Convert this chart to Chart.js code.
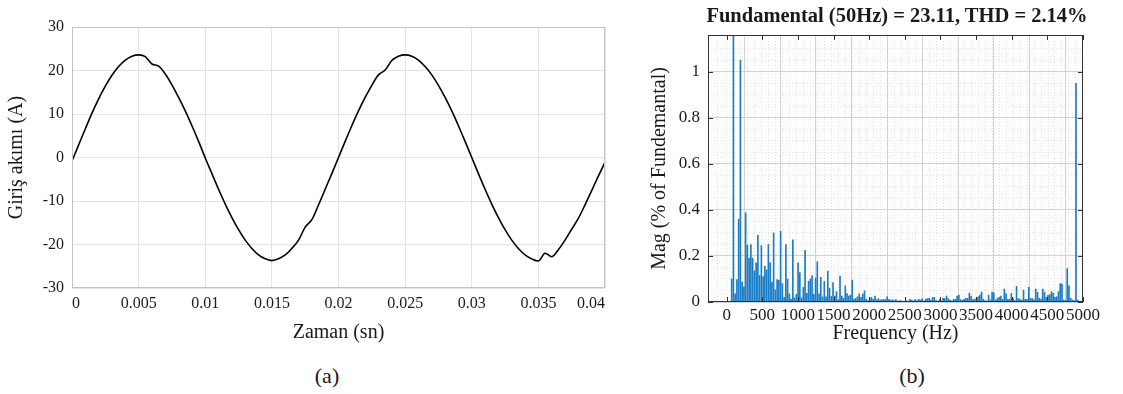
<!DOCTYPE html>
<html>
<head>
<meta charset="utf-8">
<script src="https://cdn.jsdelivr.net/npm/chart.js@4.4.0/dist/chart.umd.min.js"></script>
<style>
  body { margin: 0; background: #fff; width: 1123px; height: 394px; overflow: hidden; position: relative;
         font-family: 'Liberation Serif', 'Times New Roman', serif; color: #1a1a1a; }
  canvas { position: absolute; top: 0; }
  .lbl { position: absolute; transform: translate(-50%, -50%); white-space: nowrap; }
</style>
</head>
<body>
<canvas id="wave" width="620" height="350" style="left:0"></canvas>
<canvas id="fft" width="483" height="350" style="left:640px"></canvas>
<div class="lbl" style="left:897px; top:15px; font-size:20.5px; font-weight:bold">Fundamental (50Hz) = 23.11, THD = 2.14%</div>
<div class="lbl" style="left:327px; top:376px; font-size:22px">(a)</div>
<div class="lbl" style="left:912px; top:376px; font-size:22px">(b)</div>
<script>
// (a) input current, sampled every 0.5 ms
const timeS = [
  0, 0.0005, 0.001, 0.0015, 0.002, 0.0025, 0.003, 0.0035, 0.004, 0.0045,
  0.005, 0.0055, 0.006, 0.0065, 0.007, 0.0075, 0.008, 0.0085, 0.009, 0.0095,
  0.01, 0.0105, 0.011, 0.0115, 0.012, 0.0125, 0.013, 0.0135, 0.014, 0.0145,
  0.015, 0.0155, 0.016, 0.0165, 0.017, 0.0175, 0.018, 0.0185, 0.019, 0.0195,
  0.02, 0.0205, 0.021, 0.0215, 0.022, 0.0225, 0.023, 0.0235, 0.024, 0.0245,
  0.025, 0.0255, 0.026, 0.0265, 0.027, 0.0275, 0.028, 0.0285, 0.029, 0.0295,
  0.03, 0.0305, 0.031, 0.0315, 0.032, 0.0325, 0.033, 0.0335, 0.034, 0.0345,
  0.035, 0.0355, 0.036, 0.0365, 0.037, 0.0375, 0.038, 0.0385, 0.039, 0.0395,
  0.04
];
const currentA = [
  -0.8, 2.9, 6.6, 10.2, 13.5, 16.4, 18.9, 20.9, 22.4, 23.3,
  23.6, 23.2, 21.5, 21.0, 19.2, 16.7, 13.8, 10.7, 7.3, 3.7,
  -0.1, -3.7, -7.3, -10.7, -13.8, -16.6, -19.0, -20.9, -22.4, -23.3,
  -23.7, -23.3, -22.4, -20.9, -19.0, -16.0, -14.3, -10.9, -7.3, -3.7,
  0.0, 3.7, 7.3, 10.7, 13.8, 16.6, 19.0, 20.1, 22.3, 23.3,
  23.6, 23.3, 22.4, 20.9, 19.0, 16.6, 13.8, 10.7, 7.3, 3.7,
  0.0, -3.7, -7.3, -10.7, -13.8, -16.6, -19.0, -20.9, -22.4, -23.3,
  -23.8, -22.0, -22.8, -21.2, -19.0, -16.5, -14.0, -10.9, -7.6, -4.3,
  -1.1
];
const timeTicks = [0, 0.005, 0.01, 0.015, 0.02, 0.025, 0.03, 0.035, 0.04];
const timeTickLabels = ['0', '0.005', '0.01', '0.015', '0.02', '0.025', '0.03', '0.035', '0.04'];
const currentTicks = [-30, -20, -10, 0, 10, 20, 30];

// (b) harmonic spectrum, 25 Hz resolution
const freqHz = [
  0, 25, 50, 75, 100, 125, 150, 175, 200, 225, 250, 275, 300, 325, 350, 375, 400, 425, 450, 475,
  500, 525, 550, 575, 600, 625, 650, 675, 700, 725, 750, 775, 800, 825, 850, 875, 900, 925, 950, 975,
  1000, 1025, 1050, 1075, 1100, 1125, 1150, 1175, 1200, 1225, 1250, 1275, 1300, 1325, 1350, 1375, 1400, 1425, 1450, 1475,
  1500, 1525, 1550, 1575, 1600, 1625, 1650, 1675, 1700, 1725, 1750, 1775, 1800, 1825, 1850, 1875, 1900, 1925, 1950, 1975,
  2000, 2025, 2050, 2075, 2100, 2125, 2150, 2175, 2200, 2225, 2250, 2275, 2300, 2325, 2350, 2375, 2400, 2425, 2450, 2475,
  2500, 2525, 2550, 2575, 2600, 2625, 2650, 2675, 2700, 2725, 2750, 2775, 2800, 2825, 2850, 2875, 2900, 2925, 2950, 2975,
  3000, 3025, 3050, 3075, 3100, 3125, 3150, 3175, 3200, 3225, 3250, 3275, 3300, 3325, 3350, 3375, 3400, 3425, 3450, 3475,
  3500, 3525, 3550, 3575, 3600, 3625, 3650, 3675, 3700, 3725, 3750, 3775, 3800, 3825, 3850, 3875, 3900, 3925, 3950, 3975,
  4000, 4025, 4050, 4075, 4100, 4125, 4150, 4175, 4200, 4225, 4250, 4275, 4300, 4325, 4350, 4375, 4400, 4425, 4450, 4475,
  4500, 4525, 4550, 4575, 4600, 4625, 4650, 4675, 4700, 4725, 4750, 4775, 4800, 4825, 4850, 4875, 4900, 4925, 4950, 4975,
  5000
];
const magPct = [
  0, 0.10, 100, 0.035, 0.097, 0.36, 1.05, 0.087, 0.066, 0.387, 0.247, 0.19, 0.25, 0.19, 0.135, 0.17, 0.29, 0.115, 0.245, 0.11,
  0.155, 0.14, 0.25, 0.17, 0.087, 0.30, 0.053, 0.097, 0.094, 0.307, 0.08, 0.02, 0.25, 0.10, 0.035, 0.013, 0.27, 0.018, 0.034, 0.17,
  0.128, 0.018, 0.063, 0.225, 0.038, 0.09, 0.10, 0.115, 0.034, 0.104, 0.175, 0.035, 0.107, 0.022, 0.09, 0.022, 0.134, 0.06, 0.024, 0.084,
  0.026, 0.045, 0.01, 0.113, 0.026, 0.016, 0.07, 0.037, 0.026, 0.03, 0.095, 0.012, 0.016, 0.023, 0.035, 0.02, 0.035, 0.049, 0.012, 0.006,
  0.014, 0.02, 0.012, 0.026, 0.01, 0.015, 0.008, 0.01, 0.01, 0.012, 0.023, 0.012, 0.008, 0.01, 0.006, 0.01, 0.004, 0.006, 0.005, 0.004,
  0.003, 0.005, 0.004, 0.012, 0.008, 0.005, 0.01, 0.006, 0.012, 0.008, 0.014, 0.005, 0.012, 0.015, 0.016, 0.008, 0.02, 0.02, 0.006, 0.004,
  0.012, 0.005, 0.016, 0.015, 0.026, 0.014, 0.008, 0.005, 0.012, 0.012, 0.026, 0.03, 0.01, 0.008, 0.012, 0.016, 0.016, 0.039, 0.026, 0.01,
  0.012, 0.016, 0.023, 0.03, 0.043, 0.012, 0.006, 0.004, 0.03, 0.009, 0.043, 0.04, 0.009, 0.015, 0.02, 0.026, 0.012, 0.056, 0.037, 0.012,
  0.012, 0.037, 0.016, 0.006, 0.068, 0.015, 0.012, 0.008, 0.052, 0.012, 0.012, 0.064, 0.015, 0.015, 0.009, 0.056, 0.042, 0.016, 0.013, 0.056,
  0.042, 0.02, 0.029, 0.032, 0.045, 0.038, 0.02, 0.023, 0.045, 0.08, 0.078, 0.009, 0.006, 0.145, 0.07, 0.016, 0.009, 0.006, 0.95, 0.009,
  0
];
const freqTicks = [0, 500, 1000, 1500, 2000, 2500, 3000, 3500, 4000, 4500, 5000];
const magTicks = [0, 0.2, 0.4, 0.6, 0.8, 1];
const magTickLabels = ['0', '0.2', '0.4', '0.6', '0.8', '1'];

const SERIF = "'Liberation Serif', 'Times New Roman', serif";
const INK = '#1a1a1a';

// box round the plot area, with optional inward tick marks
const frame = {
  id: 'frame',
  afterDatasetsDraw(chart, args, o) {
    const { ctx, chartArea: a } = chart;
    ctx.save();
    ctx.strokeStyle = o.color;
    ctx.lineWidth = 1;
    ctx.strokeRect(Math.round(a.left) + 0.5, Math.round(a.top) + 0.5, Math.round(a.width) - 1, Math.round(a.height) - 1);
    if (o.tickLen) {
      ctx.beginPath();
      const sx = chart.scales.x, sy = chart.scales.y;
      sx.ticks.forEach(t => {
        const px = Math.round(sx.getPixelForValue(t.value)) + 0.5;
        ctx.moveTo(px, a.bottom); ctx.lineTo(px, a.bottom - o.tickLen);
        ctx.moveTo(px, a.top); ctx.lineTo(px, a.top + o.tickLen);
      });
      sy.ticks.forEach(t => {
        const py = Math.round(sy.getPixelForValue(t.value)) + 0.5;
        ctx.moveTo(a.left, py); ctx.lineTo(a.left + o.tickLen, py);
        ctx.moveTo(a.right, py); ctx.lineTo(a.right - o.tickLen, py);
      });
      ctx.stroke();
    }
    ctx.restore();
  }
};

new Chart(document.getElementById('wave'), {
  type: 'line',
  data: {
    datasets: [{
      data: timeS.map((t, i) => ({ x: t, y: currentA[i] })),
      borderColor: '#000',
      borderWidth: 1.6,
      pointRadius: 0,
      cubicInterpolationMode: 'monotone'
    }]
  },
  options: {
    responsive: false,
    animation: false,
    layout: { padding: { top: 27, right: 15, left: 0, bottom: 0 } },
    plugins: { legend: { display: false }, tooltip: { enabled: false }, frame: { color: '#c4c4c4' } },
    scales: {
      x: {
        type: 'linear', min: 0, max: 0.04,
        afterBuildTicks: s => { s.ticks = timeTicks.map(v => ({ value: v })); },
        afterFit: s => { s.height = 62; },
        ticks: { callback: (v, i) => timeTickLabels[i], align: 'inner', padding: 6, autoSkip: false, maxRotation: 0,
                 color: INK, font: { family: SERIF, size: 16 } },
        grid: { color: '#e4e4e4', drawTicks: false },
        border: { display: false },
        title: { display: true, text: 'Zaman (sn)', color: INK, font: { family: SERIF, size: 20 }, padding: { bottom: 5 } }
      },
      y: {
        min: -30, max: 30,
        afterBuildTicks: s => { s.ticks = currentTicks.map(v => ({ value: v })); },
        afterFit: s => { s.width = 72; },
        ticks: { padding: 8, color: INK, font: { family: SERIF, size: 16 } },
        grid: { color: '#e4e4e4', drawTicks: false },
        border: { display: false },
        title: { display: true, text: 'Giriş akımı (A)', color: INK, font: { family: SERIF, size: 20 }, padding: { top: 5 } }
      }
    }
  },
  plugins: [frame]
});

new Chart(document.getElementById('fft'), {
  type: 'bar',
  data: {
    datasets: [{
      data: freqHz.map((f, i) => ({ x: f, y: magPct[i] })),
      backgroundColor: '#1a7cc4',
      barThickness: 1
    }]
  },
  options: {
    responsive: false,
    animation: false,
    layout: { padding: { top: 35, right: 40, left: 0, bottom: 0 } },
    plugins: { legend: { display: false }, tooltip: { enabled: false }, frame: { color: '#333', tickLen: 5 } },
    scales: {
      xm: {
        type: 'linear', position: 'bottom', min: -263, max: 5000,
        afterFit: s => { s.height = 0; },
        ticks: { display: false, stepSize: 100 },
        grid: { color: '#e2e2e2', drawTicks: false },
        border: { display: false, dash: [1, 2] }
      },
      ym: {
        type: 'linear', position: 'left', min: 0, max: 1.16,
        afterFit: s => { s.width = 0; },
        ticks: { display: false, stepSize: 0.05 },
        grid: { color: '#e2e2e2', drawTicks: false },
        border: { display: false, dash: [1, 2] }
      },
      x: {
        type: 'linear', min: -263, max: 5000, offset: false,
        afterBuildTicks: s => { s.ticks = freqTicks.map(v => ({ value: v })); },
        afterFit: s => { s.height = 48; },
        ticks: { callback: v => String(v), padding: 3, autoSkip: false, maxRotation: 0,
                 color: INK, font: { family: SERIF, size: 17 } },
        grid: { color: '#d2d2d2', drawTicks: false },
        border: { display: false },
        title: { display: true, text: 'Frequency (Hz)', color: INK, font: { family: SERIF, size: 20 }, padding: { bottom: 4 } }
      },
      y: {
        min: 0, max: 1.16,
        afterBuildTicks: s => { s.ticks = magTicks.map(v => ({ value: v })); },
        afterFit: s => { s.width = 68; },
        ticks: { callback: (v, i) => magTickLabels[i], padding: 8, color: INK, font: { family: SERIF, size: 17 } },
        grid: { color: '#d2d2d2', drawTicks: false },
        border: { display: false },
        title: { display: true, text: 'Mag (% of Fundemantal)', color: INK, font: { family: SERIF, size: 20 }, padding: { top: 8 } }
      }
    }
  },
  plugins: [frame]
});
</script>
</body>
</html>
